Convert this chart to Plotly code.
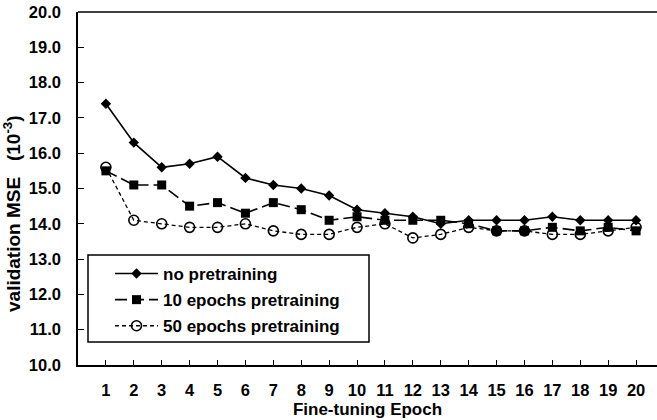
import plotly.graph_objects as go

# Validation MSE (x10^-3) per fine-tuning epoch
epochs = list(range(1, 21))
no_pretraining = [17.4, 16.3, 15.6, 15.7, 15.9, 15.3, 15.1, 15.0, 14.8, 14.4,
                  14.3, 14.2, 14.0, 14.1, 14.1, 14.1, 14.2, 14.1, 14.1, 14.1]
pretrain_10 = [15.5, 15.1, 15.1, 14.5, 14.6, 14.3, 14.6, 14.4, 14.1, 14.2,
               14.1, 14.1, 14.1, 14.0, 13.8, 13.8, 13.9, 13.8, 13.9, 13.8]
pretrain_50 = [15.6, 14.1, 14.0, 13.9, 13.9, 14.0, 13.8, 13.7, 13.7, 13.9,
               14.0, 13.6, 13.7, 13.9, 13.8, 13.8, 13.7, 13.7, 13.8, 13.9]
x_tick_labels = [str(e) for e in epochs]
y_ticks = [10 + i for i in range(11)]

FONT = "Liberation Sans, Arial, sans-serif"

W, H = 657, 420
ML, MR, MT, MB = 78, 0, 12, 55
PW, PH = W - ML - MR, H - MT - MB


def px_x(p):
    return (p - ML) / PW


def px_y(p):
    return 1 - (p - MT) / PH


def bold(size):
    return dict(family=FONT, size=size, color="black", weight="bold")


fig = go.Figure()

fig.add_trace(go.Scatter(
    x=epochs, y=no_pretraining, name="no pretraining", mode="lines+markers",
    line=dict(color="black", width=1.6),
    marker=dict(symbol="diamond", size=8, color="black"),
    legendgroup="a",
))
fig.add_trace(go.Scatter(
    x=epochs, y=pretrain_10, name="10 epochs pretraining", mode="lines+markers",
    line=dict(color="black", width=1.6, dash="12px,5px"),
    marker=dict(symbol="square", size=9, color="black"),
    legendgroup="b",
))
fig.add_trace(go.Scatter(
    x=epochs, y=pretrain_50, name="50 epochs pretraining", mode="lines+markers",
    line=dict(color="black", width=1.3, dash="4px,3px"),
    marker=dict(symbol="circle-open", size=10, color="black",
                line=dict(color="black", width=1.6)),
    legendgroup="c",
))

# top border of the plot area
fig.add_shape(type="line", xref="paper", yref="paper", x0=0, x1=1, y0=1, y1=1,
              line=dict(color="black", width=1.5))
# legend frame
fig.add_shape(type="rect", xref="paper", yref="paper",
              x0=px_x(88), x1=px_x(369), y0=px_y(342), y1=px_y(255),
              line=dict(color="black", width=1.5), fillcolor="white", layer="below")

fig.add_annotation(
    text="validation MSE\u00a0\u00a0 (10<sup>-3</sup>)", textangle=-90,
    xref="paper", yref="paper", x=px_x(12), y=px_y(214),
    xanchor="center", yanchor="middle",
    showarrow=False, font=bold(19),
)

fig.update_layout(
    width=W, height=H,
    margin=dict(l=ML, r=MR, t=MT, b=MB),
    paper_bgcolor="white", plot_bgcolor="white",
    font=bold(16.5),
    showlegend=True,
    legend=dict(
        x=px_x(110), y=px_y(256), xanchor="left", yanchor="top",
        bgcolor="rgba(0,0,0,0)", borderwidth=0,
        font=bold(17),
        tracegroupgap=1, itemwidth=43,
    ),
    xaxis=dict(
        range=[0, 20.75], tickmode="array", tickvals=epochs, ticktext=x_tick_labels,
        ticks="inside", ticklen=5, tickwidth=1.2, tickcolor="black",
        showline=True, linecolor="black", linewidth=1.5,
        showgrid=False, zeroline=False, ticklabelstandoff=9,
        tickfont=bold(16.5),
        title=dict(text="Fine-tuning Epoch", standoff=6, font=bold(17)),
    ),
    yaxis=dict(
        range=[10, 20], tickmode="array", tickvals=y_ticks, tickformat=".1f",
        ticks="inside", ticklen=6, tickwidth=1.2, tickcolor="black",
        showline=True, linecolor="black", linewidth=1.5,
        showgrid=False, zeroline=False, ticklabelstandoff=12,
        tickfont=bold(16.5),
    ),
)

fig.write_html("out.html")
